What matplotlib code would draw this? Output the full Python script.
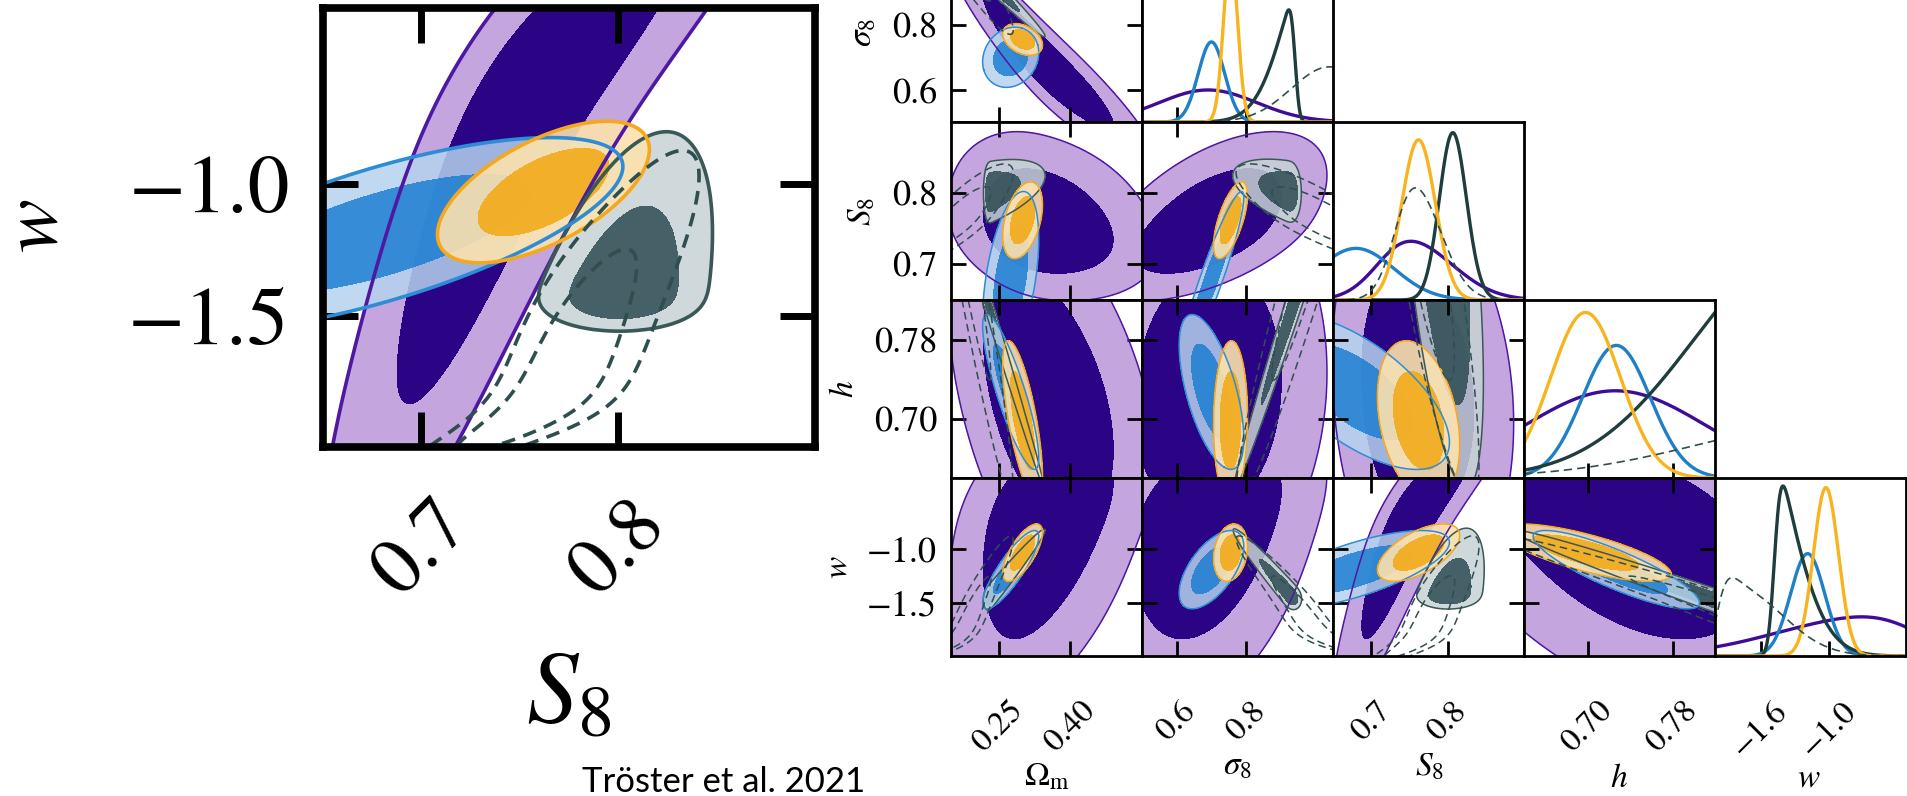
import math

import numpy as np
import matplotlib
matplotlib.use("Agg")
import matplotlib.pyplot as plt

plt.rcParams["font.family"] = "STIXGeneral"
plt.rcParams["mathtext.fontset"] = "stix"

FIG_W, FIG_H = 1907, 796

# parameters in corner order
names = ["Om", "s8", "S8", "h", "w"]
axis_labels = [r"$\Omega_{\rm m}$", r"$\sigma_8$", r"$S_8$", r"$h$", r"$w$"]
limits = [(0.15, 0.55), (0.50, 1.05), (0.65, 0.90), (0.64, 0.82), (-2.0, -0.33)]
x_ticks = [[0.25, 0.40], [0.6, 0.8], [0.7, 0.8], [0.70, 0.78], [-1.6, -1.0]]
x_tick_labels = [["0.25", "0.40"], ["0.6", "0.8"], ["0.7", "0.8"], ["0.70", "0.78"], ["\u22121.6", "\u22121.0"]]
y_ticks = [[], [0.6, 0.8], [0.7, 0.8], [0.70, 0.78], [-1.0, -1.5]]
y_tick_labels = [[], ["0.6", "0.8"], ["0.7", "0.8"], ["0.70", "0.78"], ["\u22121.0", "\u22121.5"]]
# centres of the column titles under the triangle, in pixels
x_label_px = [(1047, 777), (1237, 767), (1430, 767), (1619, 779), (1809, 779)]

# order of the pair correlations below
pairs = [(0, 1), (0, 2), (0, 3), (0, 4), (1, 2), (1, 3), (1, 4), (2, 3), (2, 4), (3, 4)]

# posterior summaries: centre, lower / upper widths, pair correlations, 1D peak height
purple_mean = [0.34, 0.69, 0.752, 0.726, -0.72]
purple_lo = [0.08, 0.14, 0.042, 0.085, 0.75]
purple_hi = [0.10, 0.14, 0.055, 0.085, 0.45]
purple_corr = [-0.93, -0.25, -0.45, 0.45, 0.55, 0.10, 0.35, -0.15, 0.90, -0.50]
purple_peak = [0.0, 0.18, 0.33, 0.49, 0.22]

blue_mean = [0.275, 0.70, 0.68, 0.727, -1.19]
blue_lo = [0.024, 0.038, 0.050, 0.032, 0.15]
blue_hi = [0.024, 0.038, 0.050, 0.032, 0.15]
blue_corr = [0.15, 0.45, -0.85, 0.85, 0.93, -0.60, 0.60, -0.65, 0.70, -0.85]
blue_peak = [0.0, 0.45, 0.29, 0.745, 0.575]

orange_mean = [0.30, 0.755, 0.762, 0.698, -1.03]
orange_lo = [0.017, 0.020, 0.022, 0.033, 0.11]
orange_hi = [0.017, 0.020, 0.022, 0.033, 0.11]
orange_corr = [-0.35, 0.40, -0.70, 0.70, 0.65, 0.05, 0.20, -0.30, 0.60, -0.75]
orange_peak = [0.0, 0.95, 0.90, 0.93, 0.946]

# every slate parameter follows h, and h is cut at the prior edge
slate_mean = [0.175, 1.013, 0.79, 0.90, -1.752]
slate_lo = [0.063, 0.0915, 0.021, 0.10, 0.345]
slate_hi = [0.063, 0.0915, 0.021, 0.10, 0.345]
slate_load = [-0.998, 0.994, -0.60, 1.0, -0.992]
slate_cut = (3, 0.82)
slate_peak = [0.0, 0.63, 0.94, 0.93, 0.955]

dashed_mean = [0.158, 1.04, 0.758, 0.935, -1.85]
dashed_lo = [0.05, 0.11, 0.026, 0.13, 0.08]
dashed_hi = [0.05, 0.11, 0.034, 0.13, 0.40]
dashed_corr = [-0.95, 0.85, -0.97, 0.96, -0.85, 0.97, -0.97, -0.88, 0.90, -0.99]
dashed_peak = [0.0, 0.31, 0.63, 0.21, 0.44]

purple = dict(mean=purple_mean, lo=purple_lo, hi=purple_hi, corr=purple_corr, peak=purple_peak,
              filled=True, outer="#C4A5DD", inner="#2A0485", alpha=1.0,
              edge="#4E18A5", line="#3F0C9A")
blue = dict(mean=blue_mean, lo=blue_lo, hi=blue_hi, corr=blue_corr, peak=blue_peak,
            filled=True, outer="#B5D3EE", inner="#1E7FD2", alpha=0.85,
            edge="#2E8CD6", line="#1F80C8")
orange = dict(mean=orange_mean, lo=orange_lo, hi=orange_hi, corr=orange_corr, peak=orange_peak,
              filled=True, outer="#FCE2AE", inner="#F2AA1A", alpha=0.9,
              edge="#F5A81C", line="#F8B41E")
slate = dict(mean=slate_mean, lo=slate_lo, hi=slate_hi, load=slate_load, cut=slate_cut, peak=slate_peak,
             filled=True, outer="#C7D3D5", inner="#2D4B53", alpha=0.85,
             edge="#3A5858", line="#1F3D3D")
dashed = dict(mean=dashed_mean, lo=dashed_lo, hi=dashed_hi, corr=dashed_corr, peak=dashed_peak,
              filled=False, edge="#2F4F4F", line="#2F4F4F")

fill_order = [purple, slate, blue, orange, dashed]
line_order = [purple, blue, slate, orange, dashed]

_erf = np.vectorize(math.erf)


def corr_of(ds, i, j):
    if "load" in ds:
        return ds["load"][i] * ds["load"][j]
    return ds["corr"][pairs.index((min(i, j), max(i, j)))]


def standardise(ds, k, x):
    # width eases from the lower to the upper value across the centre
    m, lo, hi = ds["mean"][k], ds["lo"][k], ds["hi"][k]
    tau = 0.5 * (lo + hi)
    s = math.sqrt(lo * hi) * (hi / lo) ** (0.5 * np.tanh((np.asarray(x) - m) / tau))
    return (x - m) / s


def below_cut(ds, idx, us):
    # chance that the cut parameter stays under its bound, given the others
    k, bound = ds["cut"]
    b = float(standardise(ds, k, bound))
    a = np.array([corr_of(ds, k, i) for i in idx])
    S = np.array([[1.0 if i == j else corr_of(ds, i, j) for j in idx] for i in idx])
    wts = np.linalg.solve(S, a)
    mu = sum(wt * u for wt, u in zip(wts, us))
    sd = math.sqrt(max(1.0 - a @ wts, 1e-6))
    return 0.5 * (1.0 + _erf((b - mu) / (sd * math.sqrt(2))))


def grid(ds, k, n=500):
    lo = ds["mean"][k] - 5 * ds["lo"][k]
    hi = ds["mean"][k] + 5 * ds["hi"][k]
    if "cut" in ds and ds["cut"][0] == k:
        hi = min(hi, ds["cut"][1])
    return np.linspace(lo, hi, n)


def density2d(ds, i, j, X, Y):
    u = standardise(ds, i, X)
    v = standardise(ds, j, Y)
    r = corr_of(ds, i, j)
    P = np.exp(-0.5 * (u * u - 2 * r * u * v + v * v) / (1 - r * r))
    if "cut" in ds:
        k, bound = ds["cut"]
        if k == i:
            P[X > bound] = 0
        elif k == j:
            P[Y > bound] = 0
        else:
            P = P * below_cut(ds, [i, j], [u, v])
    return P


def density1d(ds, k, x):
    u = standardise(ds, k, x)
    p = np.exp(-0.5 * u * u)
    if "cut" in ds:
        kc, bound = ds["cut"]
        if kc == k:
            p[x > bound] = 0
        else:
            p = p * below_cut(ds, [k], [u])
    return p


def mass_levels(P):
    flat = np.sort(P.ravel())[::-1]
    cum = np.cumsum(flat) / flat.sum()
    return flat[np.searchsorted(cum, 0.95)], flat[np.searchsorted(cum, 0.68)]


def draw_pair(ax, i, j, big=False):
    for ds in fill_order:
        X, Y = np.meshgrid(grid(ds, i), grid(ds, j))
        P = density2d(ds, i, j, X, Y)
        l95, l68 = mass_levels(P)
        top = P.max() * 1.01
        if ds["filled"]:
            ax.contourf(X, Y, P, levels=[l95, top], colors=[ds["outer"]], alpha=ds["alpha"])
            ax.contourf(X, Y, P, levels=[l68, top], colors=[ds["inner"]], alpha=ds["alpha"])
            ax.contour(X, Y, P, levels=[l95], colors=[ds["edge"]],
                       linewidths=2.6 if big else 1.1)
        else:
            ax.contour(X, Y, P, levels=[l95, l68], colors=[ds["edge"]],
                       linewidths=2.6 if big else 1.1,
                       linestyles=[(0, (3.8, 2.4))] if big else [(0, (5, 3))])


def draw_diag(ax, k):
    xs = np.linspace(limits[k][0], limits[k][1], 400)
    for ds in line_order:
        p = density1d(ds, k, xs)
        p = p / p.max() * ds["peak"][k]
        if ds["filled"]:
            ax.plot(xs, p, color=ds["line"], lw=2.4)
        else:
            ax.plot(xs, p, color=ds["line"], lw=1.2, ls=(0, (5, 3)))


fig = plt.figure(figsize=(FIG_W / 100, FIG_H / 100), dpi=100)


def axes_px(left, top, width, height):
    return fig.add_axes([left / FIG_W, 1 - (top + height) / FIG_H, width / FIG_W, height / FIG_H])


# triangle of marginals, top row runs off the page
COL0, COL_W = 951, 191
ROW0, ROW_H = -56, 178
for r in range(1, 5):
    for c in range(r + 1):
        ax = axes_px(COL0 + c * COL_W, ROW0 + (r - 1) * ROW_H, COL_W, ROW_H)
        for sp in ax.spines.values():
            sp.set_linewidth(2.0)
        ax.set_xlim(limits[c])
        ax.set_xticks(x_ticks[c])
        if c < r:
            draw_pair(ax, c, r)
            ax.set_ylim(limits[r])
            ax.set_yticks(y_ticks[r])
            ax.tick_params(direction="in", length=11, width=2.0, top=True, right=True)
        else:
            draw_diag(ax, c)
            ax.set_ylim(0, 1)
            ax.set_yticks([])
            ax.tick_params(axis="x", direction="in", length=11, width=2.0, top=False)
        ax.tick_params(axis="x", pad=29, labelsize=24)
        ax.tick_params(axis="y", pad=10, labelsize=26)
        if r == 4:
            ax.set_xticklabels(x_tick_labels[c], rotation=45)
        else:
            ax.tick_params(labelbottom=False)
        if c == 0:
            ax.set_yticklabels(y_tick_labels[r])
            ax.set_ylabel(axis_labels[r], fontsize=24, labelpad=10)
        elif c < r:
            ax.tick_params(labelleft=False)

for lab, (px, py) in zip(axis_labels, x_label_px):
    fig.text(px / FIG_W, 1 - py / FIG_H, lab, fontsize=24, ha="center", va="center")

# enlarged S8 - w panel
axL = axes_px(323, 8, 492, 439)
draw_pair(axL, 2, 4, big=True)
axL.set_xlim(limits[2])
axL.set_ylim(limits[4])
for sp in axL.spines.values():
    sp.set_linewidth(5.5)
axL.set_xticks([0.7, 0.8])
axL.set_xticklabels(["0.7", "0.8"], rotation=45)
axL.set_yticks([-1.0, -1.5])
axL.set_yticklabels(["\u22121.0", "\u22121.5"])
axL.tick_params(direction="in", length=25, width=5, top=True, right=True)
axL.tick_params(axis="x", pad=30, labelsize=58)
axL.tick_params(axis="y", pad=24, labelsize=60)
axL.set_xlabel(r"$S_8$", fontsize=74, labelpad=30)
fig.text(38 / FIG_W, 1 - 226 / FIG_H, r"$w$", fontsize=58, rotation=90,
         ha="center", va="center")

fig.text(582 / FIG_W, 1 - 792 / FIG_H, "Tr\u00f6ster et al. 2021", family="Lato",
         fontsize=25, ha="left", va="baseline")

fig.savefig("out.png", dpi=100)
